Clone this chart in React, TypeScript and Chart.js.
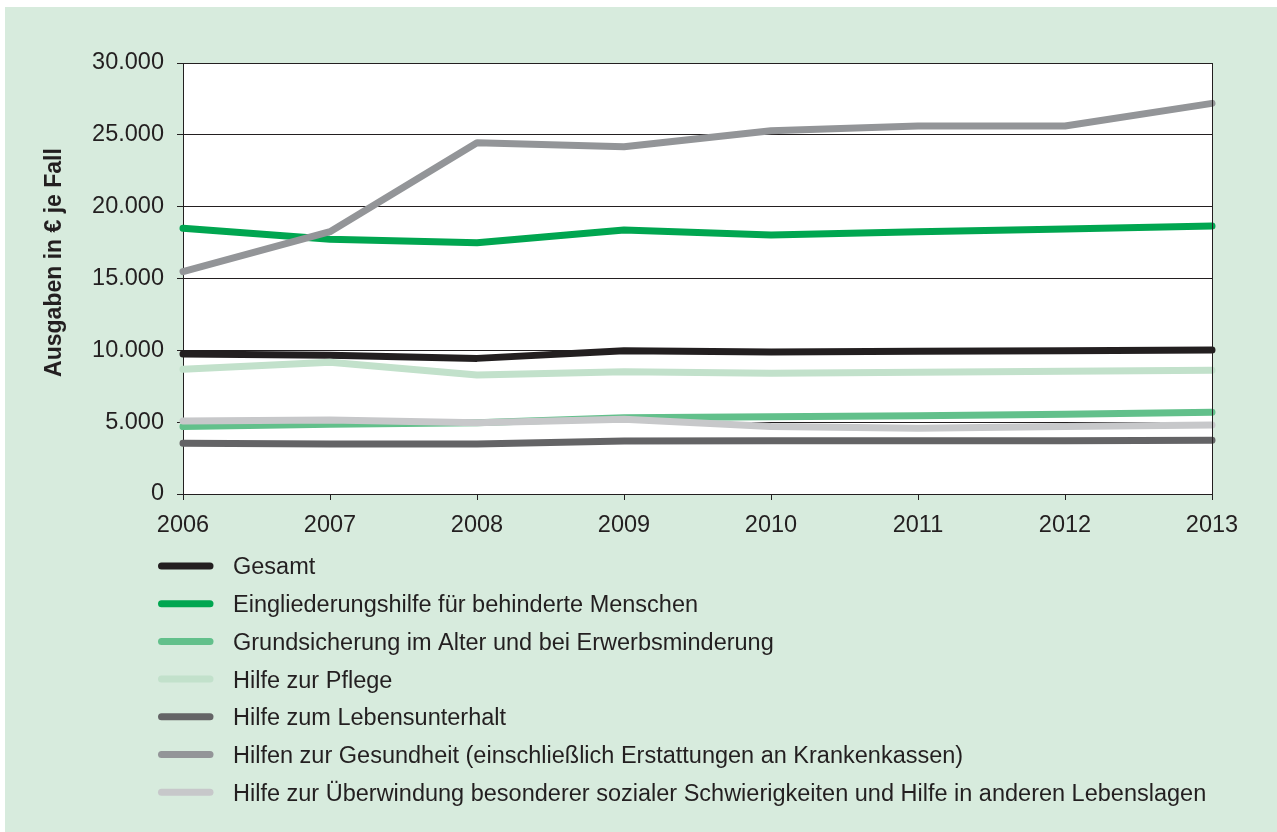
import React, { useEffect, useRef } from "react";
import { Chart, registerables } from "chart.js";

Chart.register(...registerables);

const years = ["2006", "2007", "2008", "2009", "2010", "2011", "2012", "2013"];

const seriesNames = [
  "Gesamt",
  "Eingliederungshilfe für behinderte Menschen",
  "Grundsicherung im Alter und bei Erwerbsminderung",
  "Hilfe zur Pflege",
  "Hilfe zum Lebensunterhalt",
  "Hilfen zur Gesundheit (einschließlich Erstattungen an Krankenkassen)",
  "Hilfe zur Überwindung besonderer sozialer Schwierigkeiten und Hilfe in anderen Lebenslagen",
];

const gesamt = [9745, 9650, 9440, 9975, 9885, 9930, 9975, 10020];
const eingliederung = [18490, 17725, 17495, 18375, 18030, 18260, 18445, 18655];
const grundsicherung = [4690, 4850, 4965, 5300, 5380, 5450, 5545, 5685];
const pflege = [8680, 9165, 8280, 8515, 8400, 8470, 8540, 8610];
const lebensunterhalt = [3525, 3480, 3480, 3690, 3710, 3710, 3710, 3735];
const gesundheit = [15475, 18260, 24455, 24175, 25290, 25615, 25615, 27190];
const ueberwindung = [5080, 5150, 4965, 5195, 4690, 4570, 4690, 4800];

const seriesValues = [gesamt, eingliederung, grundsicherung, pflege, lebensunterhalt, gesundheit, ueberwindung];
const seriesColors = ["#231f20", "#00a650", "#62c08b", "#c2e1cb", "#646466", "#939598", "#c7c8ca"];

const yTitle = "Ausgaben in € je Fall";
const yMin = 0;
const yMax = 30000;
const yStep = 5000;

const FONT = "'Liberation Sans', Arial, Helvetica, sans-serif";
const TEXT = "#231f20";
const FS = 23.5;

function formatDe(v: number): string {
  const s = Math.round(v).toString();
  return s.replace(/\B(?=(\d{3})+(?!\d))/g, ".");
}

const chartBgPlugin = {
  id: "chartBg",
  beforeDraw(chart: any) {
    const { ctx, chartArea } = chart;
    ctx.save();
    ctx.fillStyle = "#ffffff";
    ctx.fillRect(chartArea.left, chartArea.top, chartArea.right - chartArea.left, chartArea.bottom - chartArea.top);
    ctx.restore();
  },
  afterDraw(chart: any) {
    const { ctx, chartArea } = chart;
    ctx.save();
    // right border
    ctx.strokeStyle = TEXT;
    ctx.lineWidth = 1;
    ctx.beginPath();
    ctx.moveTo(Math.round(chartArea.right) + 0.5, chartArea.top);
    ctx.lineTo(Math.round(chartArea.right) + 0.5, chartArea.bottom + 6);
    ctx.stroke();

    // y title
    ctx.save();
    ctx.translate(chartArea.left - 128, (chartArea.top + chartArea.bottom) / 2 - 16);
    ctx.rotate(-Math.PI / 2);
    ctx.font = `bold 23px ${FONT}`;
    ctx.fillStyle = TEXT;
    ctx.textAlign = "center";
    ctx.textBaseline = "middle";
    ctx.fillText(yTitle, 0, 0);
    ctx.restore();

    // legend
    const x0 = chartArea.left - 25;
    const baseY = chartArea.bottom + 72;
    chart.data.datasets.forEach((ds: any, i: number) => {
      const y = baseY + i * 37.7;
      ctx.strokeStyle = ds.borderColor;
      ctx.lineWidth = 7;
      ctx.lineCap = "round";
      ctx.beginPath();
      ctx.moveTo(x0 + 3.5, y);
      ctx.lineTo(x0 + 52, y);
      ctx.stroke();
      ctx.font = `${FS}px ${FONT}`;
      ctx.fillStyle = TEXT;
      ctx.textAlign = "left";
      ctx.textBaseline = "middle";
      ctx.fillText(ds.label, x0 + 75, y + 2);
    });
    ctx.restore();
  },
};

export default function App() {
  const canvasRef = useRef<HTMLCanvasElement | null>(null);

  useEffect(() => {
    const canvas = canvasRef.current;
    if (!canvas) return;
    const n = seriesNames.length;
    const chart = new Chart(canvas, {
      type: "line",
      data: {
        labels: years,
        datasets: seriesNames.map((name, i) => ({
          label: name,
          data: seriesValues[i],
          borderColor: seriesColors[i],
          backgroundColor: seriesColors[i],
          borderWidth: 7,
          pointRadius: 0,
          pointHoverRadius: 0,
          tension: 0,
          borderCapStyle: "round",
          borderJoinStyle: "round",
          fill: false,
          clip: false,
          order: n - i,
        })),
      },
      options: {
        responsive: false,
        animation: false,
        devicePixelRatio: 1,
        events: [],
        layout: { padding: { top: 63, right: 65, left: 0, bottom: 0 } },
        plugins: {
          legend: { display: false },
          tooltip: { enabled: false },
          title: { display: false },
        },
        scales: {
          x: {
            type: "category",
            offset: false,
            grid: {
              display: true,
              drawOnChartArea: false,
              drawTicks: true,
              tickLength: 6,
              color: TEXT,
              lineWidth: 1,
            },
            border: { display: true, color: TEXT, width: 1 },
            ticks: {
              color: TEXT,
              font: { family: FONT, size: FS },
              padding: 11,
              maxRotation: 0,
              autoSkip: false,
            },
            afterFit(scale: any) {
              scale.height = 832 - 494;
            },
          },
          y: {
            min: yMin,
            max: yMax,
            grid: {
              display: true,
              drawOnChartArea: true,
              drawTicks: true,
              tickLength: 6,
              color: TEXT,
              lineWidth: 1,
            },
            border: { display: true, color: TEXT, width: 1 },
            ticks: {
              stepSize: yStep,
              color: TEXT,
              font: { family: FONT, size: FS },
              padding: 13,
              callback: (v: any) => formatDe(Number(v)),
            },
            afterFit(scale: any) {
              scale.width = 183;
            },
          },
        },
      },
      plugins: [chartBgPlugin],
    });
    return () => chart.destroy();
  }, []);

  return (
    <div style={{ position: "fixed", left: 0, top: 0, width: 1277, height: 832, background: "#ffffff", overflow: "hidden" }}>
      <div style={{ position: "absolute", left: 5, top: 7, right: 0, bottom: 0, background: "#d7ebdd" }} />
      <canvas ref={canvasRef} width={1277} height={832} style={{ position: "absolute", left: 0, top: 0, width: 1277, height: 832 }} />
    </div>
  );
}
